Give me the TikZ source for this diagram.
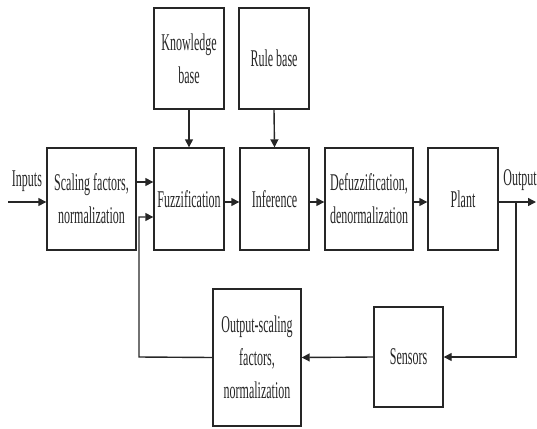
\documentclass[tikz,border=0pt]{standalone}
\usepackage{fontspec}
\setmainfont[FakeStretch=0.5]{Liberation Serif}
\usetikzlibrary{arrows.meta}
\begin{document}
\begin{tikzpicture}[x=1pt,y=-1pt,
  blk/.style={draw=black!85,line width=1.4pt,rectangle,align=center,inner sep=0pt,
    font=\fontsize{24}{33}\selectfont,text=black!85},
  arr/.style={draw=black!85,line width=1.4pt,-{Triangle[length=8pt,width=8pt]}},
  lbl/.style={font=\fontsize{24}{33}\selectfont,inner sep=0pt,text=black!85}]
\useasboundingbox (0,0) rectangle (537,428);
\node[blk,minimum width=70pt,minimum height=101pt] (kb) at (189,58.5) {Knowledge\\base};
\node[blk,minimum width=70pt,minimum height=101pt] (rb) at (274,58.5) {Rule base};
\node[blk,minimum width=89pt,minimum height=102pt] (sc) at (91.5,199) {Scaling factors,\\normalization};
\node[blk,minimum width=70pt,minimum height=102pt] (fz) at (189,199) {Fuzzification};
\node[blk,minimum width=69pt,minimum height=102pt] (inf) at (274.5,199) {Inference};
\node[blk,minimum width=88pt,minimum height=102pt] (df) at (369,199) {Defuzzification,\\denormalization};
\node[blk,minimum width=70pt,minimum height=102pt] (pl) at (463,199) {Plant};
\node[blk,minimum width=88pt,minimum height=137pt] (os) at (257,357.5) {Output-scaling\\factors,\\normalization};
\node[blk,minimum width=69pt,minimum height=100pt] (se) at (408.5,357) {Sensors};
\node[lbl] (inl) at (27,181) {Inputs};
\node[lbl] (outl) at (520,180) {Output};
\coordinate (in) at (8,202);
\coordinate (out) at (536,202);
\coordinate (br) at (516,202);
\coordinate (fb) at (139,357);
\draw[arr] (kb.south) -- (fz.north);
\draw[arr] (rb.south) -- (inf.north);
\draw[arr] (in) -- (sc.west |- in);
\draw[arr] (sc.east |- 0,182) -- (fz.west |- 0,182);
\draw[arr] (fz.east |- in) -- (inf.west |- in);
\draw[arr] (inf.east |- in) -- (df.west |- in);
\draw[arr] (df.east |- in) -- (pl.west |- in);
\draw[arr] (pl.east |- in) -- (out);
\draw[arr] (br) -- (br |- se.east) -- (se.east);
\draw[arr] (se.west) -- (os.east);
\draw[arr] (os.west) -- (fb) -- (fb |- 0,217) -- (fz.west |- 0,217);
\end{tikzpicture}
\end{document}
